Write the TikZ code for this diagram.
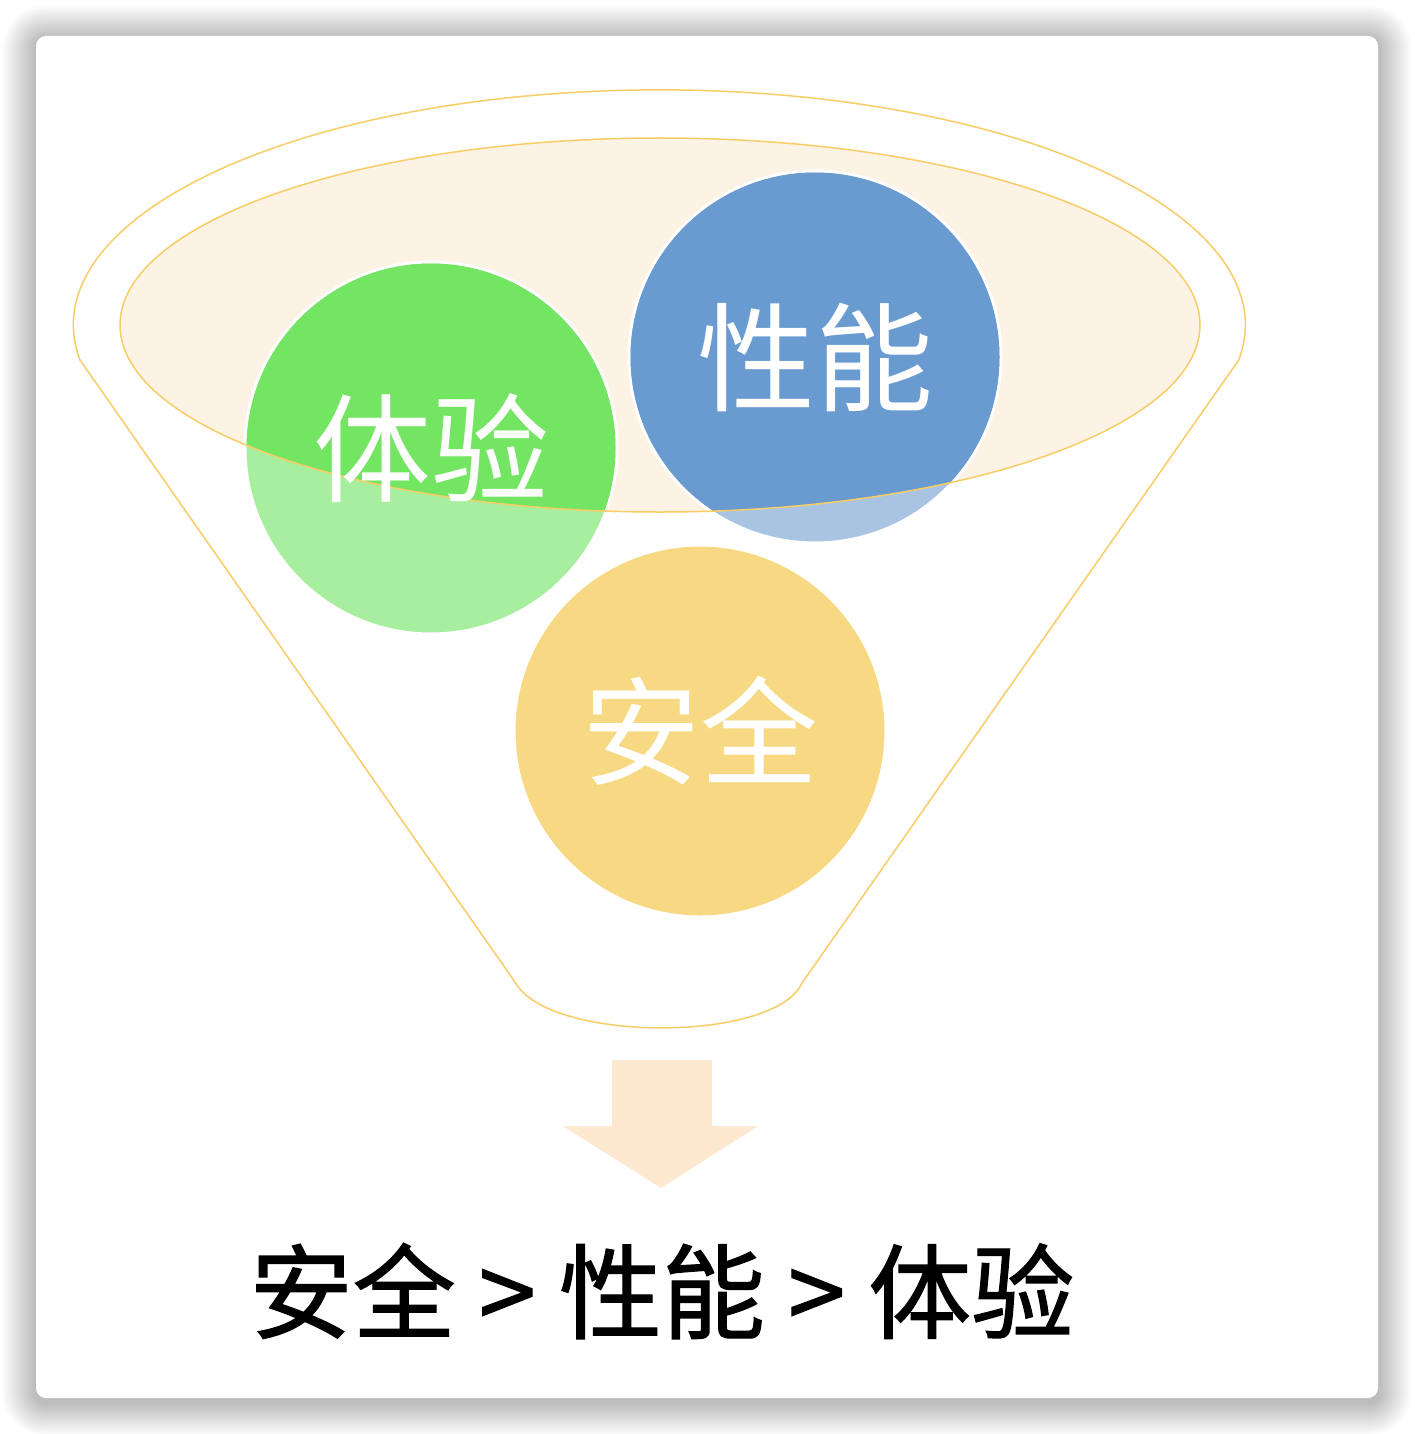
\documentclass[tikz,border=0pt]{standalone}
\usepackage{fontspec}
\newfontfamily\cjk{Noto Sans CJK SC}
\newfontfamily\cjkheavy[FakeBold=1.2]{Noto Sans CJK SC}
\usepackage{tikz}
\usetikzlibrary{positioning}
\definecolor{funnelline}{HTML}{F9CD66}
\definecolor{bowlfill}{HTML}{FDF3E4}
\definecolor{greenhi}{HTML}{73E562}
\definecolor{greenlo}{HTML}{A7EF9E}
\definecolor{bluehi}{HTML}{6A9BD0}
\definecolor{bluelo}{HTML}{A9C4E3}
\definecolor{yellowball}{HTML}{F8D983}
\definecolor{arrowfill}{HTML}{FCE9CF}

\begin{document}
\begin{tikzpicture}[
    x=1pt, y=-1pt,
    ball/.style={circle, draw=white, line width=3pt, minimum size=372pt, inner sep=0pt},
    balltext/.style={text=white, font=\cjk\fontsize{118}{120}\selectfont},
    funnel/.style={draw=funnelline, line width=1.5pt},
    ranktext/.style={text=black, font=\cjkheavy\fontsize{103}{110}\selectfont}
]
\useasboundingbox (0,0) rectangle (1414,1434);

% card and its shadow
\foreach \d in {1,...,34}{
  \pgfmathsetmacro\rr{10+\d}
  \fill[black, opacity=0.007, rounded corners=\rr pt] (36-\d,39-\d) rectangle (1378+\d,1402+\d);
}
\fill[white, rounded corners=10pt] (36,36) rectangle (1378,1398);

% funnel
\draw[funnel, fill=white] (80,360) arc[start angle=171.4, end angle=368.6, x radius=586, y radius=235]
  -- (802,983) .. controls (775,1043) and (548,1043) .. (515,982) -- cycle;
\fill[bowlfill] (660,325) ellipse[x radius=540, y radius=187];

% balls
\node[ball, fill=greenlo] (exp) at (431,448) {};
\node[ball, fill=bluelo] (perf) at (815,357) {};
\node[ball, fill=yellowball] (safe) at (700,731) {};
\begin{scope}
  \clip (660,325) ellipse[x radius=540, y radius=187];
  \fill[greenhi] (exp.center) circle[radius=184.5];
  \fill[bluehi] (perf.center) circle[radius=184.5];
\end{scope}
\draw[funnel] (660,325) ellipse[x radius=540, y radius=187];

\node[balltext] (explabel) at (exp) {体验};
\node[balltext] (perflabel) at (perf) {性能};
\node[balltext] (safelabel) at (safe) {安全};

% arrow and result
\fill[arrowfill] (612,1060) -- (712,1060) -- (712,1126) -- (758,1126) -- (661,1188) -- (563,1126) -- (612,1126) -- cycle;
\node[ranktext] (rank) at (662,1291) {安全 > 性能 > 体验};
\end{tikzpicture}
\end{document}
